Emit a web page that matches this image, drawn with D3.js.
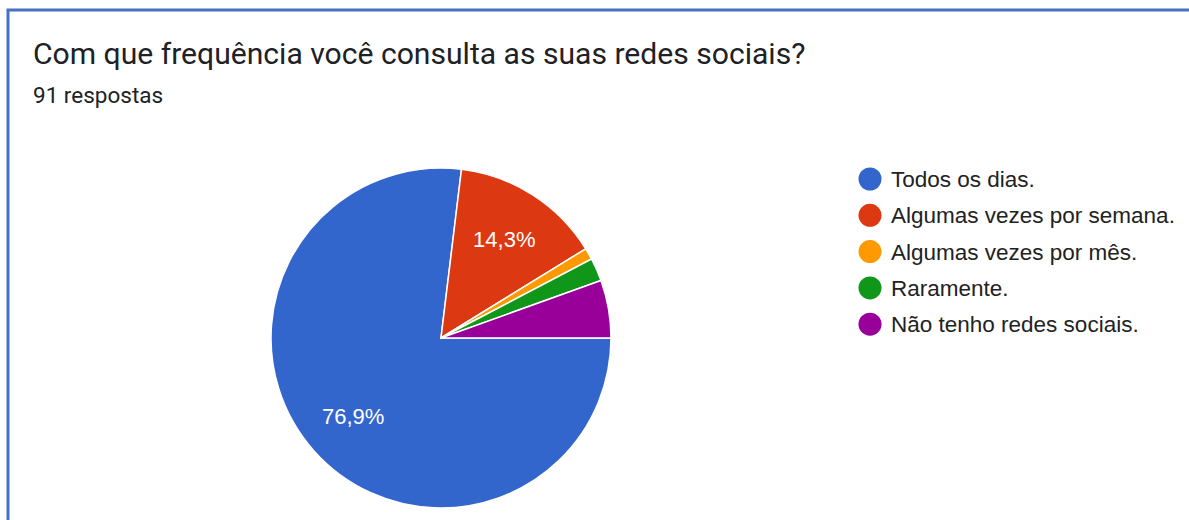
<!DOCTYPE html>
<html><head><meta charset="utf-8">
<script src="https://cdn.jsdelivr.net/npm/d3@7"></script>
<style>html,body{margin:0;padding:0;background:#fff;}svg{display:block;}</style>
</head><body>
<svg id="chart" width="1189" height="520"></svg>
<script>
const title = "Com que frequência você consulta as suas redes sociais?";
const subtitle = "91 respostas";
const categories = ["Todos os dias.", "Algumas vezes por semana.", "Algumas vezes por mês.", "Raramente.", "Não tenho redes sociais."];
const counts = [70, 13, 1, 2, 5];
const colors = ["#3366cc", "#dc3912", "#ff9900", "#109618", "#990099"];

const svg = d3.select("#chart");
const W = 1189, H = 520;
const font = "Roboto, Arial, sans-serif";
const font2 = "Arial, 'Liberation Sans', sans-serif";

// frame
svg.append("path").attr("d", `M8,${H} L8,10 L${W},10`).attr("fill","none").attr("stroke","#4472c4").attr("stroke-width",3);

svg.append("text").attr("x",33).attr("y",64).attr("font-family",font).attr("font-size",30.1).attr("fill","#202124").text(title);
svg.append("text").attr("x",33).attr("y",103).attr("font-family",font).attr("font-size",22.5).attr("fill","#202124").text(subtitle);

const cx = 441, cy = 338, r = 170;
const total = d3.sum(counts);
const pie = d3.pie().sort(null).startAngle(Math.PI/2).endAngle(Math.PI/2 + 2*Math.PI);
const arcs = pie(counts);
const arc = d3.arc().innerRadius(0).outerRadius(r);
const labelArc = d3.arc().innerRadius(r*0.69).outerRadius(r*0.69);
const fmt = v => (Math.round(v*1000)/10).toFixed(1).replace(".", ",") + "%";

const g = svg.append("g").attr("transform",`translate(${cx},${cy})`);
g.selectAll("path.slice").data(arcs).join("path").attr("class","slice")
  .attr("d", arc).attr("fill",(d,i)=>colors[i]).attr("stroke","#fff").attr("stroke-width",1.5);
g.selectAll("text.lbl").data(arcs.filter(d => d.value/total > 0.1)).join("text").attr("class","lbl")
  .attr("transform", d => `translate(${labelArc.centroid(d)})`)
  .attr("text-anchor","middle").attr("dy","0.36em")
  .attr("font-family",font2).attr("font-size",22).attr("fill","#fff")
  .text(d => fmt(d.value/total));

const leg = svg.append("g").attr("transform","translate(870,179)");
const rows = leg.selectAll("g").data(categories).join("g").attr("transform",(d,i)=>`translate(0,${i*36.3})`);
rows.append("circle").attr("r",11.5).attr("fill",(d,i)=>colors[i]);
rows.append("text").attr("x",21).attr("dy","0.36em").attr("font-family",font2).attr("font-size",22.5).attr("fill","#222").text(d=>d);
</script>
</body></html>
